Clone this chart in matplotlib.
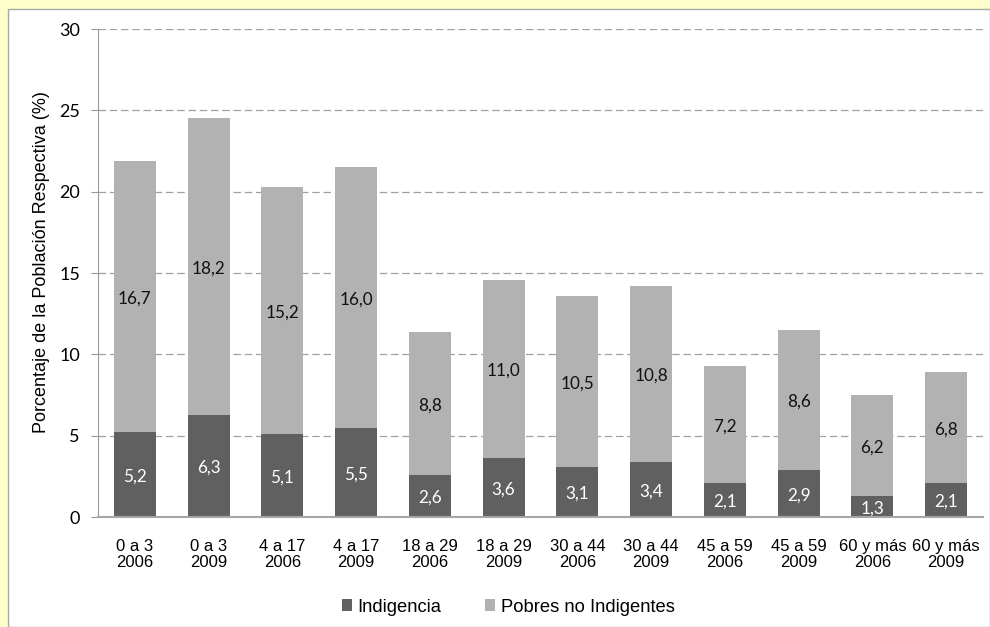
import matplotlib
matplotlib.use("Agg")
import matplotlib.pyplot as plt
from matplotlib.patches import Rectangle
import numpy as np

# Age groups and survey years
groups = ["0 a 3", "0 a 3", "4 a 17", "4 a 17", "18 a 29", "18 a 29",
          "30 a 44", "30 a 44", "45 a 59", "45 a 59", "60 y más", "60 y más"]
years = ["2006", "2009"] * 6

indigencia = [5.2, 6.3, 5.1, 5.5, 2.6, 3.6, 3.1, 3.4, 2.1, 2.9, 1.3, 2.1]
pobres_no_indigentes = [16.7, 18.2, 15.2, 16.0, 8.8, 11.0, 10.5, 10.8, 7.2, 8.6, 6.2, 6.8]

series_names = ["Indigencia", "Pobres no Indigentes"]
y_ticks = [0, 5, 10, 15, 20, 25, 30]
y_title = "Porcentaje de la Población Respectiva (%)"

DARK = "#606060"
LIGHT = "#B2B2B2"
AXIS_GREY = "#9A9A9A"
LABEL_FONT = ["Lato", "DejaVu Sans"]
TEXT_FONT = ["Liberation Sans", "DejaVu Sans"]

fig = plt.figure(figsize=(9.9, 6.27), dpi=100)
fig.patch.set_facecolor("#FFFFCC")

# White chart panel with thin grey border
W, H = 990, 627
panel = Rectangle((8 / W, 0), 1 - 8 / W, 1 - 9 / H, transform=fig.transFigure,
                  facecolor="white", edgecolor="#A8A8A8", linewidth=1.0, zorder=-10)
fig.patches.append(panel)

ax = fig.add_axes([98 / W, 1 - 517 / H, (983 - 98) / W, (517 - 29) / H])
ax.set_facecolor("none")

x = np.arange(len(groups))
width = 0.57
b1 = ax.bar(x, indigencia, width, color=DARK, label=series_names[0], zorder=3)
b2 = ax.bar(x, pobres_no_indigentes, width, bottom=indigencia, color=LIGHT,
            label=series_names[1], zorder=3)

def fmt(v):
    return f"{v:.1f}".replace(".", ",")

for xi, lo, hi in zip(x, indigencia, pobres_no_indigentes):
    ax.annotate(fmt(lo), (xi, lo / 2), xytext=(0, -1.5), textcoords="offset points",
                ha="center", va="center", color="white", fontsize=12.3,
                family=LABEL_FONT, zorder=4)
    ax.annotate(fmt(hi), (xi, lo + hi / 2), xytext=(0, -1.5), textcoords="offset points",
                ha="center", va="center", color="#111111", fontsize=12.3,
                family=LABEL_FONT, zorder=4)

ax.set_xlim(-0.5, len(groups) - 0.5)
ax.set_ylim(0, 30)
ax.set_yticks(y_ticks)
ax.set_yticklabels([str(t) for t in y_ticks], family=LABEL_FONT, fontsize=13)
ax.yaxis.grid(True, linestyle=(0, (6, 3)), color="#A0A0A0", linewidth=0.9, zorder=1)
ax.set_axisbelow(True)

ax.set_xticks(x)
ax.set_xticklabels([f"{g}\n{y}" for g, y in zip(groups, years)],
                   family=TEXT_FONT, fontsize=12, linespacing=1.05)
ax.tick_params(axis="x", length=0, pad=16)
ax.tick_params(axis="y", length=5, color=AXIS_GREY, pad=8, direction="out")

for s in ["top", "right"]:
    ax.spines[s].set_visible(False)
ax.spines["left"].set_color(AXIS_GREY)
ax.spines["bottom"].set_color("#A6A6A6")
ax.spines["bottom"].set_linewidth(1.5)
ax.spines["left"].set_zorder(5)
ax.spines["bottom"].set_zorder(5)

fig.text(42 / W, 1 - 262 / H, y_title, rotation=90, ha="center", va="center",
         family=TEXT_FONT, fontsize=13)

leg = fig.legend(handles=[b1, b2], labels=series_names, loc="center",
                 bbox_to_anchor=(508 / W, 1 - 607 / H), ncol=2, frameon=False,
                 prop={"family": TEXT_FONT, "size": 13.2}, handlelength=0.55,
                 handleheight=0.55, handletextpad=0.3, columnspacing=2.4)

fig.savefig("out.png", dpi=100, facecolor=fig.get_facecolor())
